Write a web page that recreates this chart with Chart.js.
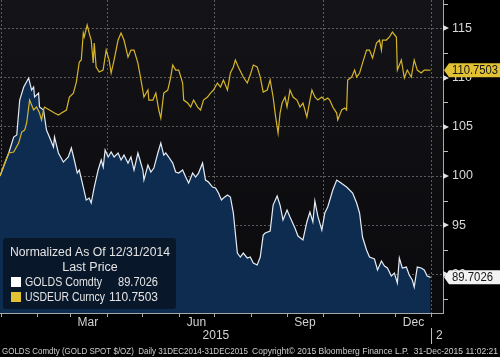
<!DOCTYPE html>
<html><head><meta charset="utf-8">
<script src="https://cdn.jsdelivr.net/npm/chart.js@4.4.1/dist/chart.umd.min.js"></script>
<style>html,body{margin:0;padding:0;background:#000;}canvas{display:block;}</style>
</head><body>
<canvas id="c" width="500" height="357"></canvas>
<script>
// days since 31-Dec-2014, normalized price (31-Dec-2014 = 100)
const goldDays = [
  0,7.4,11.6,14.2,16.7,20.1,24.3,26.8,28.5,29.3,
  32.7,33.5,36.9,39.4,41.9,45.3,46.2,49.5,53.7,57.9,
  60.5,63.0,65.5,67.2,70.6,73.1,75.6,77.3,79.9,83.2,
  85.8,87.5,89.1,91.7,94.2,96.7,100.1,102.6,105.1,108.5,
  111.0,113.6,116.9,121.1,122.0,125.4,127.9,130.4,133.8,136.3,
  138.8,140.5,143.0,146.4,148.9,151.5,154.8,157.4,159.9,163.3,
  165.8,168.3,171.7,174.2,176.7,180.1,182.7,185.2,187.7,189.4,
  192.8,195.3,197.8,201.2,203.7,206.2,209.6,212.1,214.7,218.0,
  220.6,223.1,224.8,229.0,231.5,234.9,237.4,239.9,243.3,245.8,
  250.0,252.6,256.8,260.1,262.7,265.2,266.9,269.4,272.8,275.3,
  277.8,282.1,285.4,287.9,293.8,298.9,302.3,304.8,307.3,310.7,
  313.2,317.4,320.0,323.3,325.9,328.4,331.7,334.3,336.8,338.5,
  341.0,344.4,346.9,349.5,351.1,353.7,357.0,359.6,362.1,365
];
const goldValues = [
  100,102.34,103.96,104.17,107.72,109.04,109.96,108.74,109.04,108.03,
  108.43,107.01,106.71,104.67,103.96,102.95,103.96,102.34,101.42,101.93,
  102.85,101.63,100.30,100.61,98.88,97.56,97.76,97.26,98.88,100.61,
  101.63,100.91,102.64,101.93,102.44,101.93,102.34,101.63,102.13,101.32,
  101.93,100.61,102.34,100.61,99.59,101.12,100.41,100.81,102.34,103.35,
  102.13,102.34,101.93,101.32,100.41,100.30,100.61,99.90,99.29,100.30,
  99.90,100.30,101.32,99.59,99.39,98.88,98.78,98.27,97.56,97.76,
  98.07,97.87,96.24,92.17,91.77,92.17,91.67,91.77,91.16,90.96,
  91.77,94.00,94.21,94.41,97.05,97.97,97.05,95.53,96.54,95.83,
  94.72,93.90,93.50,95.33,96.34,95.33,97.46,95.93,94.51,96.24,
  96.85,98.58,99.59,99.39,98.88,98.27,97.26,96.24,93.80,92.48,
  91.77,91.57,90.45,91.36,90.85,90.65,89.84,90.14,89.13,91.67,
  90.65,90.75,89.94,89.43,88.72,90.75,90.65,90.45,89.84,89.7026
];
const usdDays = [
  0,4.0,7.4,11.6,15.8,18.4,20.9,22.6,25.1,28.5,
  31.0,33.5,35.2,36.9,37.7,41.9,46.2,49.5,52.1,56.3,
  58.8,62.2,64.7,67.2,68.9,70.6,71.4,73.9,75.6,77.3,
  79.0,79.9,81.5,84.1,87.4,90.0,92.5,94.2,96.7,100.1,
  102.6,105.1,108.5,111.0,113.6,116.9,119.5,122.0,125.4,126.2,
  129.6,132.1,134.6,136.3,138.8,142.2,144.7,146.4,148.9,151.5,
  154.8,155.7,159.1,161.6,164.1,167.5,170.0,172.5,175.9,178.4,
  181.0,184.3,186.9,189.4,192.8,195.3,197.8,199.5,202.0,206.2,
  209.6,212.1,214.7,218.0,220.6,223.1,226.5,229.0,231.5,233.2,
  235.7,237.4,239.1,241.6,243.3,245.8,248.4,251.7,254.3,256.8,
  260.1,262.7,264.4,266.9,269.4,272.8,275.3,277.8,279.5,282.1,
  285.4,286.3,289.6,292.2,293.8,294.7,298.1,300.6,302.3,304.8,
  307.3,310.7,313.2,315.8,319.1,321.7,323.3,324.2,327.5,330.1,
  332.6,336.0,336.8,340.2,342.7,345.2,348.6,351.1,353.7,357.0,
  359.6,362.1,365
];
const usdValues = [
  100,101.32,102.34,102.44,103.35,104.47,104.67,105.39,107.72,106.71,
  107.01,106.40,105.69,106.71,107.01,106.71,106.40,106.20,106.40,106.71,
  108.03,108.43,109.55,111.59,111.79,114.53,114.13,115.35,114.53,113.82,
  111.48,113.52,111.08,110.57,110.77,112.80,111.79,110.47,111.79,113.82,
  114.53,113.82,112.09,112.80,112.80,111.48,109.76,108.03,108.74,107.72,
  107.72,108.43,106.71,105.89,108.43,108.74,110.06,111.28,110.77,110.77,
  109.45,107.72,107.42,107.01,107.72,107.01,106.71,107.72,108.03,108.43,
  108.74,109.45,109.04,109.76,108.74,110.47,111.08,111.79,111.08,110.06,
  109.45,110.26,111.28,111.08,110.06,108.54,108.74,109.76,108.03,106.40,
  104.37,106.40,107.42,108.03,107.01,108.74,108.03,107.72,107.01,107.42,
  106.00,107.72,108.74,108.03,107.72,108.03,107.72,107.93,107.72,107.01,
  106.40,105.69,106.71,106.91,106.71,109.76,110.06,110.77,110.06,110.47,
  111.48,112.80,112.80,111.99,113.52,113.82,112.80,113.82,113.82,114.13,
  114.63,114.13,110.77,111.79,109.96,110.77,110.06,111.79,110.77,110.47,
  110.77,110.77,110.7503
];
const seriesNames = ['GOLDS Comdty', 'USDEUR Curncy'];
const monthStartDays = [1,32,60,91,121,152,182,213,244,274,305,335,366];
const quarterStartDays = [1,91,182,274,366];
const monthLabels = ['Mar','Jun','Sep','Dec'];
const monthLabelDays = [74.5,166.5,258.5,350.5];
const yearLabels = ['2015','2016'];
const yearLabelDays = [183,370.5];
const yTickValues = [87.5,90,92.5,95,97.5,100,102.5,105,107.5,110,112.5,115,117.5];
const yLabelValues = [90,95,100,105,110,115];
const legendTitle = ['Normalized As Of 12/31/2014', 'Last Price'];
const footerLeft = 'GOLDS Comdty (GOLD SPOT $/OZ)  Daily 31DEC2014-31DEC2015';
const footerRight = 'Copyright\u00A9 2015 Bloomberg Finance L.P.  31-Dec-2015 11:02:21';

const FONT = "'Liberation Sans', Arial, sans-serif";
const GOLD_LINE = '#e6ecf3', GOLD_FILL = '#0e2c50', USD_LINE = '#d6b52a', TAG_YELLOW = '#e2c232';

function pts(xs, ys){ const n = Math.min(xs.length, ys.length); const o=[]; for(let i=0;i<n;i++) o.push({x:xs[i], y:ys[i]}); return o; }

const decor = {
  id: 'decor',
  beforeDraw(chart){
    const {ctx, chartArea:a} = chart;
    ctx.save();
    ctx.fillStyle = '#000'; ctx.fillRect(0,0,chart.width,chart.height);
    const g = ctx.createLinearGradient(0,a.top,0,a.bottom);
    g.addColorStop(0,'#141418'); g.addColorStop(1,'#0a0a0d');
    ctx.fillStyle = g; ctx.fillRect(a.left,a.top,a.right-a.left,a.bottom-a.top);
    ctx.restore();
  },
  afterDraw(chart){
    const {ctx, chartArea:a, scales:{x,y}} = chart;
    ctx.save();
    // right axis tick marks
    ctx.fillStyle = '#e0e0e0'; ctx.strokeStyle = '#bdbdbd'; ctx.lineWidth = 1;
    yTickValues.forEach(v=>{
      const py = Math.round(y.getPixelForValue(v));
      if (yLabelValues.includes(v)) {
        ctx.beginPath(); ctx.moveTo(a.right, py-3); ctx.lineTo(a.right+6, py); ctx.lineTo(a.right, py+3); ctx.closePath(); ctx.fill();
      } else {
        ctx.beginPath(); ctx.moveTo(a.right, py+0.5); ctx.lineTo(a.right+5, py+0.5); ctx.stroke();
      }
    });
    // year labels and separator
    ctx.fillStyle = '#d2d2d2'; ctx.font = '12px '+FONT; ctx.textBaseline = 'middle';
    ctx.textAlign = 'center';
    ctx.fillText(yearLabels[0], x.getPixelForValue(yearLabelDays[0]), 336);
    const sep = Math.round(x.getPixelForValue(monthStartDays[monthStartDays.length-1])) - 0.5;
    ctx.strokeStyle = '#bdbdbd';
    ctx.beginPath(); ctx.moveTo(sep, 328); ctx.lineTo(sep, 344); ctx.stroke();
    ctx.save(); ctx.beginPath(); ctx.rect(0, 320, a.right, 30); ctx.clip();
    ctx.textAlign = 'left';
    ctx.fillText(yearLabels[1], sep + 4.5, 336);
    ctx.restore();
    // footer
    ctx.font = '9.5px '+FONT; ctx.fillStyle = '#cfcfcf'; ctx.textAlign = 'left';
    ctx.fillText(footerLeft, 2, 351, 246);
    ctx.textAlign = 'right';
    ctx.fillText(footerRight, 498, 351, 246);
    // legend box
    ctx.fillStyle = 'rgba(9,22,40,0.93)';
    ctx.beginPath(); ctx.roundRect(3, 238, 173, 71, 3); ctx.fill();
    ctx.fillStyle = '#e4e4e4'; ctx.font = '12.5px '+FONT; ctx.textAlign = 'center';
    ctx.fillText(legendTitle[0], 90, 253, 160);
    ctx.fillText(legendTitle[1], 90, 268, 56);
    const gLast = goldValues[goldValues.length-1], uLast = usdValues[usdValues.length-1];
    ctx.fillStyle = '#ffffff'; ctx.fillRect(11, 277, 10, 10);
    ctx.fillStyle = TAG_YELLOW; ctx.fillRect(11, 292, 10, 10);
    ctx.fillStyle = '#e4e4e4'; ctx.textAlign = 'left';
    ctx.fillText(seriesNames[0], 25, 282.5, 77);
    ctx.fillText(seriesNames[1], 25, 297.5, 80);
    ctx.textAlign = 'right';
    ctx.fillText(gLast.toFixed(4), 158, 282.5, 40);
    ctx.fillText(uLast.toFixed(4), 158, 297.5, 49);
    // last value tags
    function tag(val, color, width){
      const py = y.getPixelForValue(val);
      ctx.fillStyle = color;
      ctx.beginPath(); ctx.moveTo(a.right+1, py); ctx.lineTo(a.right+6, py-7); ctx.lineTo(500, py-7);
      ctx.lineTo(500, py+7); ctx.lineTo(a.right+6, py+7); ctx.closePath(); ctx.fill();
      ctx.fillStyle = '#151515'; ctx.textAlign = 'left'; ctx.font = '12.5px '+FONT;
      ctx.fillText(val.toFixed(4), a.right+9, py+0.5, width);
    }
    tag(uLast, TAG_YELLOW, 46);
    tag(gLast, '#f2f2f2', 41);
    ctx.restore();
  }
};

new Chart(document.getElementById('c'), {
  type: 'line',
  data: {
    datasets: [
      { label: seriesNames[1], data: pts(usdDays, usdValues), borderColor: USD_LINE, borderWidth: 1.2,
        pointRadius: 0, fill: false, tension: 0, order: 0 },
      { label: seriesNames[0], data: pts(goldDays, goldValues), borderColor: GOLD_LINE, borderWidth: 1.2,
        pointRadius: 0, fill: 'start', backgroundColor: GOLD_FILL, tension: 0, order: 1 }
    ]
  },
  options: {
    responsive: false, animation: false, devicePixelRatio: 1,
    layout: { padding: 0 },
    plugins: { legend: { display: false }, tooltip: { enabled: false } },
    scales: {
      x: {
        type: 'linear', position: 'bottom', min: 0, max: 375.5,
        afterBuildTicks: s => {
          s.ticks = monthStartDays.concat(monthLabelDays).sort((a,b)=>a-b).map(v=>({value:v}));
        },
        afterFit: s => { s.height = 44; s.paddingLeft = 0; s.paddingRight = 0; },
        ticks: {
          autoSkip: false, maxRotation: 0, minRotation: 0, padding: -2, color: '#d2d2d2',
          font: { family: FONT, size: 12 },
          callback: v => { const i = monthLabelDays.indexOf(v); return i >= 0 ? monthLabels[i] : ''; }
        },
        grid: {
          color: c => (c.tick && quarterStartDays.includes(c.tick.value)) ? '#5c5c5c' : 'rgba(0,0,0,0)',
          tickColor: c => (c.tick && monthStartDays.includes(c.tick.value)) ? '#a8a8a8' : 'rgba(0,0,0,0)',
          tickLength: 4, lineWidth: 1
        },
        border: { color: '#a8a8a8', dash: [2, 2] }
      },
      y: {
        type: 'linear', position: 'right', min: 86.08, max: 117.89,
        afterBuildTicks: s => { s.ticks = yTickValues.map(v=>({value:v})); },
        afterFit: s => { s.width = 57; s.paddingTop = 0; s.paddingBottom = 0; },
        ticks: {
          padding: 9, color: '#d8d8d8', font: { family: FONT, size: 12.5 },
          callback: v => yLabelValues.includes(v) ? String(v) : null
        },
        grid: {
          drawTicks: false,
          color: c => (c.tick && yLabelValues.includes(c.tick.value)) ? '#5c5c5c' : 'rgba(0,0,0,0)'
        },
        border: { color: '#a8a8a8', dash: [2, 2] }
      }
    }
  },
  plugins: [decor]
});
</script>
</body></html>
